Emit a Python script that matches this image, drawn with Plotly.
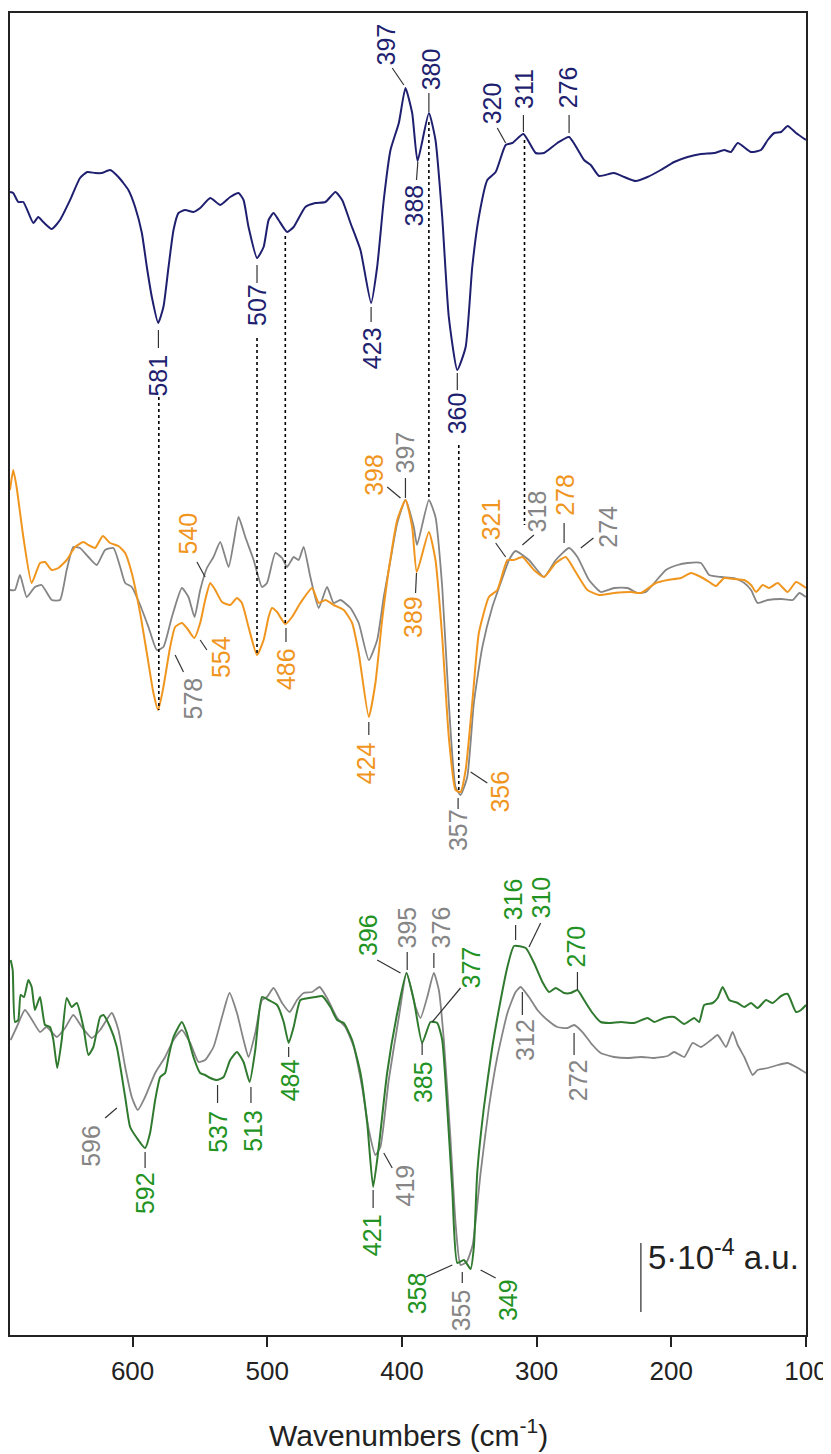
import plotly.graph_objects as go

# ---------------- data (wavenumber in cm-1, intensity in arbitrary offset units) ----------------
blue_wn = [691.0, 688.6, 684.9, 681.1, 673.7, 670.0, 666.3, 660.0, 653.9, 646.4,
           639.0, 633.6, 627.8, 622.9, 616.7, 610.5, 603.1, 598.1, 593.1, 589.4,
           585.7, 581.0, 577.1, 573.3, 569.6, 565.9, 560.9, 554.8, 549.8, 542.3,
           534.9, 527.5, 521.3, 517.6, 513.9, 507.6, 502.7, 499.0, 495.3, 491.6,
           485.3, 480.4, 471.7, 464.3, 456.8, 449.4, 444.4, 438.2, 430.8, 422.9,
           418.4, 413.5, 408.5, 402.3, 397.4, 392.4, 388.4, 380.0, 375.1, 370.1,
           365.2, 358.9, 352.7, 347.8, 342.9, 336.6, 330.4, 323.0, 318.0, 309.8,
           300.7, 294.5, 284.6, 275.9, 264.8, 259.8, 253.6, 242.5, 235.0, 226.4,
           217.7, 207.8, 197.9, 187.9, 178.0, 168.1, 160.7, 155.7, 150.7, 140.8,
           133.4, 128.4, 123.5, 118.5, 113.6, 107.4, 100.0]
blue_val = [1143, 1142, 1133, 1133, 1112, 1118, 1113, 1106, 1115, 1135,
            1157, 1163, 1162, 1162, 1165, 1158, 1145, 1128, 1102, 1068,
            1038, 1012, 1028, 1068, 1105, 1122, 1125, 1123, 1127, 1137,
            1130, 1138, 1142, 1135, 1108, 1077, 1088, 1115, 1122, 1115,
            1103, 1108, 1128, 1132, 1133, 1143, 1135, 1112, 1085, 1032,
            1068, 1135, 1185, 1212, 1247, 1222, 1174, 1222, 1195, 1118,
            1018, 965, 988, 1068, 1118, 1155, 1163, 1190, 1192, 1201,
            1182, 1182, 1192, 1198, 1175, 1170, 1159, 1162, 1158, 1154,
            1158, 1165, 1173, 1178, 1181, 1182, 1185, 1183, 1192, 1183,
            1185, 1195, 1202, 1203, 1209, 1202, 1195]

orange_wn = [691.0, 688.6, 686.1, 681.1, 674.9, 668.7, 665.0, 660.0, 655.1, 648.9,
             642.7, 636.5, 632.8, 627.8, 622.1, 616.7, 610.5, 605.5, 600.6, 594.4,
             589.4, 584.5, 581.0, 577.1, 572.1, 568.4, 563.4, 559.7, 554.2, 549.8,
             546.1, 542.3, 538.6, 533.6, 527.5, 522.5, 518.8, 513.9, 507.6, 502.7,
             499.0, 496.5, 492.7, 486.6, 481.6, 475.4, 466.7, 461.8, 456.8, 450.7,
             443.2, 437.0, 432.1, 424.6, 419.7, 414.7, 409.8, 403.5, 397.3, 392.4,
             389.0, 380.0, 375.1, 370.1, 365.2, 360.2, 356.5, 352.7, 347.8, 342.9,
             335.4, 329.2, 321.7, 316.8, 310.6, 302.0, 294.5, 285.8, 278.4, 271.0,
             262.3, 253.6, 242.5, 230.1, 222.6, 211.5, 202.8, 192.9, 185.4, 178.0,
             171.8, 166.9, 160.7, 153.3, 145.8, 140.8, 137.1, 132.1, 127.2, 121.0,
             113.6, 107.4, 100.0]
orange_val = [845, 865, 848, 798, 752, 772, 773, 765, 767, 775,
              788, 793, 790, 787, 799, 792, 789, 782, 762, 722,
              682, 642, 625, 648, 688, 708, 712, 707, 697, 712,
              735, 752, 745, 733, 730, 737, 732, 708, 680, 695,
              718, 727, 723, 711, 718, 732, 747, 732, 735, 730,
              725, 712, 682, 618, 652, 715, 765, 815, 835, 808,
              763, 803, 775, 698, 598, 545, 543, 565, 632, 702,
              738, 745, 775, 775, 778, 765, 758, 772, 778, 763,
              745, 740, 742, 743, 742, 752, 755, 757, 762, 758,
              753, 749, 757, 756, 755, 750, 743, 750, 747, 752,
              743, 753, 747]

gray_mid_wn = [691.0, 687.3, 683.6, 678.6, 672.5, 667.5, 660.0, 653.9, 648.9, 644.0,
               639.0, 632.8, 626.6, 620.4, 614.2, 609.2, 605.5, 600.6, 594.4, 588.2,
               582.0, 577.1, 570.8, 563.4, 558.5, 554.0, 549.8, 544.8, 539.9, 534.9,
               528.7, 525.0, 521.3, 516.3, 510.1, 503.9, 500.2, 494.0, 489.0, 485.3,
               480.4, 476.7, 473.0, 468.0, 461.8, 455.6, 450.7, 445.7, 438.2, 432.1,
               424.6, 418.4, 413.5, 408.5, 403.5, 397.4, 391.2, 388.8, 380.0, 375.1,
               370.1, 365.2, 360.2, 356.5, 351.5, 346.6, 340.3, 332.9, 326.7, 320.5,
               315.6, 305.7, 294.5, 285.8, 275.9, 269.7, 261.1, 252.4, 242.5, 232.5,
               225.1, 218.9, 212.7, 204.0, 195.4, 187.9, 178.0, 171.8, 163.1, 153.3,
               145.8, 140.8, 135.9, 128.4, 118.5, 109.8, 104.9, 100.0]
gray_mid_val = [745, 745, 760, 738, 748, 750, 735, 735, 765, 788,
                787, 778, 770, 785, 787, 768, 752, 748, 730, 708,
                685, 688, 718, 747, 738, 718, 745, 767, 778, 793,
                768, 792, 818, 798, 775, 748, 752, 782, 777, 768,
                778, 775, 788, 758, 727, 748, 732, 735, 727, 712,
                675, 695, 738, 775, 812, 835, 808, 790, 835, 818,
                748, 632, 548, 540, 558, 632, 688, 728, 752, 775,
                784, 775, 758, 775, 787, 778, 755, 743, 747, 747,
                742, 743, 752, 765, 770, 772, 772, 760, 758, 757,
                752, 745, 732, 735, 736, 735, 742, 738]

green_wn = [690.5, 689.0, 687.3, 684.9, 683.1, 680.6, 677.4, 674.9, 672.5, 668.7,
            665.0, 661.3, 658.8, 655.9, 652.6, 648.9, 645.2, 641.4, 636.5, 632.8,
            629.1, 624.1, 621.7, 616.7, 611.7, 605.5, 601.8, 596.8, 590.7, 587.0,
            583.2, 579.5, 575.8, 573.3, 569.6, 563.4, 559.7, 554.8, 549.8, 546.1,
            542.3, 537.4, 532.4, 527.5, 522.5, 517.6, 513.1, 508.9, 503.9, 499.0,
            492.7, 487.8, 484.1, 480.4, 475.4, 469.2, 464.3, 459.3, 453.1, 448.1,
            443.2, 437.0, 430.8, 425.8, 421.4, 417.2, 411.0, 403.5, 396.6, 391.2,
            385.0, 378.8, 373.8, 370.1, 366.4, 362.6, 358.9, 354.0, 349.0, 346.6,
            344.1, 339.1, 332.9, 326.7, 321.7, 316.8, 308.1, 301.9, 295.7, 290.8,
            285.8, 279.6, 274.7, 269.7, 264.8, 258.5, 252.4, 246.2, 237.5, 227.6,
            217.7, 212.7, 205.3, 197.9, 190.4, 183.0, 179.3, 175.6, 169.3, 165.6,
            161.9, 157.0, 150.7, 145.8, 140.8, 135.9, 129.7, 124.7, 118.5, 113.6,
            107.4, 103.7, 100.0]
green_val = [375, 365, 313, 315, 340, 338, 355, 348, 325, 338,
             310, 308, 295, 267, 295, 337, 328, 332, 308, 280,
             288, 318, 320, 308, 288, 238, 208, 197, 187, 202,
             235, 258, 262, 278, 298, 313, 302, 278, 262, 260,
             257, 255, 258, 275, 283, 273, 253, 285, 338, 335,
             330, 313, 292, 308, 335, 337, 338, 339, 328, 315,
             312, 295, 262, 212, 148, 188, 262, 322, 362, 335,
             292, 313, 312, 295, 228, 145, 72, 75, 66, 88,
             162, 228, 288, 335, 368, 389, 387, 372, 353, 343,
             347, 342, 342, 345, 335, 322, 313, 312, 313, 312,
             317, 313, 317, 318, 311, 317, 313, 330, 332, 337,
             348, 335, 332, 328, 332, 327, 335, 332, 339, 341,
             323, 325, 330]

gray_bot_wn = [690.5, 686.0, 679.9, 673.7, 668.7, 663.8, 656.3, 650.1, 644.0, 637.7,
               630.3, 624.1, 615.4, 610.5, 605.5, 600.6, 596.1, 590.7, 583.2, 575.8,
               569.6, 563.4, 557.2, 551.0, 546.1, 539.9, 533.6, 528.0, 522.5, 517.6,
               513.9, 508.9, 503.9, 500.2, 495.3, 489.0, 483.4, 477.9, 473.0, 466.7,
               461.1, 455.6, 448.1, 442.0, 435.8, 429.6, 424.6, 419.7, 416.0, 409.8,
               402.3, 396.6, 389.9, 386.2, 381.2, 376.3, 372.6, 368.9, 363.9, 360.2,
               356.5, 352.0, 347.5, 341.6, 335.4, 329.2, 321.7, 315.6, 311.9, 305.7,
               299.4, 292.0, 284.6, 277.1, 272.2, 266.0, 258.5, 252.4, 242.5, 232.5,
               222.6, 212.7, 202.8, 197.9, 190.4, 184.2, 178.0, 170.6, 165.6, 159.4,
               154.5, 150.7, 145.8, 139.6, 135.9, 128.4, 121.0, 113.6, 106.1, 100.0]
gray_bot_val = [295, 308, 325, 313, 303, 308, 298, 307, 320, 308,
                297, 305, 322, 305, 268, 238, 225, 238, 262, 278,
                295, 305, 292, 273, 275, 288, 318, 342, 322, 295,
                278, 302, 335, 338, 347, 332, 323, 335, 342, 343,
                348, 337, 317, 308, 288, 248, 205, 180, 188, 255,
                318, 362, 328, 317, 338, 362, 345, 295, 195, 112,
                70, 73, 90, 162, 228, 278, 322, 343, 348, 338,
                325, 315, 308, 307, 310, 303, 290, 282, 278, 277,
                278, 277, 279, 283, 278, 292, 288, 295, 300, 288,
                303, 290, 278, 260, 265, 267, 270, 272, 267, 262]

# peak labels: text, wavenumber of label centre, intensity of label centre
blue_lbl_text = ["397", "388", "380", "320", "311", "276", "581", "507", "423", "360"]
blue_lbl_wn = [412.2, 390.7, 378.2, 332.9, 309.4, 276.5, 581.4, 507.6, 422.1, 358.9]
blue_lbl_val = [1290, 1130, 1266, 1232, 1246, 1248, 959, 1030, 987, 922]

orange_lbl_text = ["398", "540", "554", "486", "424", "389", "321", "278", "356"]
orange_lbl_wn = [420.9, 558.5, 534.3, 486.0, 426.5, 391.8, 333.6, 279.1, 327.5]
orange_lbl_val = [860, 802, 678, 666, 572, 718, 816, 840, 543]

graym_lbl_text = ["397", "578", "318", "274", "357"]
graym_lbl_wn = [398.1, 554.8, 299.4, 247.2, 358.3]
graym_lbl_val = [882, 637, 824, 808, 505]

green_lbl_text = ["592", "537", "513", "484", "421", "396", "377", "385", "316", "310", "270", "358", "349"]
green_lbl_wn = [590.7, 536.7, 510.7, 482.9, 422.1, 425.2, 348.4, 384.3, 317.4, 296.4, 270.4, 388.6, 321.2]
green_lbl_val = [142, 203, 204, 255, 100, 400, 368, 253, 436, 438, 389, 42, 35]

grayb_lbl_text = ["596", "419", "395", "376", "312", "272", "355"]
grayb_lbl_wn = [631.0, 397.4, 395.9, 370.7, 308.7, 269.1, 355.9]
grayb_lbl_val = [189, 150, 408, 408, 295, 255, 25]

# leader lines (wn0, val0, wn1, val1)
leaders = [
    (407.2, 1267, 398.6, 1250), (388.2, 1173, 389.2, 1155), (380.0, 1242, 380.0, 1223),
    (329.2, 1207, 323.0, 1192), (309.8, 1220, 309.8, 1203), (275.9, 1220, 275.9, 1202),
    (580.8, 1005, 580.8, 987), (507.6, 1070, 507.6, 1052), (422.9, 1028, 422.9, 1013),
    (358.9, 962, 358.9, 945),
    (410.9, 848, 401.1, 837), (397.4, 857, 397.4, 837), (552.2, 773, 546.1, 758),
    (568.4, 680, 562.2, 663), (549.8, 695, 544.8, 685), (486.1, 707, 486.1, 693),
    (424.6, 613, 424.6, 600), (389.2, 762, 389.9, 742), (330.4, 792, 323.0, 778),
    (310.6, 790, 302.0, 800), (279.6, 812, 279.6, 792), (267.2, 787, 257.8, 797),
    (349.0, 563, 336.6, 552), (358.3, 537, 358.3, 526),
    (620.4, 217, 611.7, 227), (590.7, 183, 590.7, 167), (536.9, 250, 536.9, 232),
    (512.1, 248, 512.1, 232), (484.1, 288, 484.1, 278), (421.4, 145, 421.4, 127),
    (413.5, 182, 407.2, 167), (418.4, 375, 401.1, 362), (396.1, 383, 396.1, 365),
    (376.3, 382, 376.3, 367), (377.5, 313, 356.5, 347), (385.0, 292, 385.0, 280),
    (315.6, 410, 315.6, 395), (305.7, 388, 297.0, 412), (269.7, 363, 269.7, 345),
    (310.6, 343, 310.6, 320), (272.2, 302, 272.2, 280), (382.5, 58, 362.6, 70),
    (355.2, 63, 355.2, 52), (341.6, 65, 330.4, 57),
]

# dotted correlation lines (wn, val_top, val_bottom)
dotted = [(580.5, 938, 625), (507.6, 997, 682), (486.6, 1099, 711),
          (380.0, 1213, 835), (357.8, 890, 545), (309.0, 1195, 810)]

# scale bar: 5e-4 a.u.
scale_wn = 222.6
scale_val = [23, 92]

x_ticks = [600, 500, 400, 300, 200, 100]

# ---------------- styling ----------------
BLUE = "#1f1f70"
ORANGE = "#f0961f"
GRAY = "#858585"
GREEN_LINE = "#2f7a2f"
GREEN_TEXT = "#229322"
FONT = "Liberation Sans, Arial, sans-serif"
LBL_SIZE = 25

fig = go.Figure()


def add_line(x, y, color, width=2.0):
    fig.add_trace(go.Scatter(x=x, y=y, mode="lines", hoverinfo="skip",
                             line=dict(color=color, width=width, shape="spline", smoothing=0.5)))


add_line(blue_wn, blue_val, BLUE, 2.0)
add_line(gray_mid_wn, gray_mid_val, GRAY, 1.8)
add_line(orange_wn, orange_val, ORANGE, 2.0)
add_line(gray_bot_wn, gray_bot_val, GRAY, 1.8)
add_line(green_wn, green_val, GREEN_LINE, 2.0)

shapes = []
for (w, v0, v1) in dotted:
    shapes.append(dict(type="line", xref="x", yref="y", x0=w, x1=w, y0=v0, y1=v1,
                       line=dict(color="black", width=1.6, dash="dot")))
for (w0, v0, w1, v1) in leaders:
    shapes.append(dict(type="line", xref="x", yref="y", x0=w0, x1=w1, y0=v0, y1=v1,
                       line=dict(color="#333333", width=1.2)))
shapes.append(dict(type="line", xref="x", yref="y", x0=scale_wn, x1=scale_wn,
                   y0=scale_val[0], y1=scale_val[1], line=dict(color="#555555", width=1.5)))

annotations = []


def add_labels(texts, wns, vals, color):
    for t, w, v in zip(texts, wns, vals):
        annotations.append(dict(x=w, y=v, xref="x", yref="y", text=t, showarrow=False,
                                textangle=-90, xanchor="center", yanchor="middle",
                                font=dict(family=FONT, size=LBL_SIZE, color=color)))


add_labels(blue_lbl_text, blue_lbl_wn, blue_lbl_val, BLUE)
add_labels(orange_lbl_text, orange_lbl_wn, orange_lbl_val, ORANGE)
add_labels(graym_lbl_text, graym_lbl_wn, graym_lbl_val, GRAY)
add_labels(green_lbl_text, green_lbl_wn, green_lbl_val, GREEN_TEXT)
add_labels(grayb_lbl_text, grayb_lbl_wn, grayb_lbl_val, GRAY)

annotations.append(dict(x=scale_wn - 3.5, y=80, xref="x", yref="y",
                        text="5·10<sup>-4</sup> a.u.", showarrow=False,
                        xanchor="left", yanchor="middle",
                        font=dict(family=FONT, size=33, color="#222222")))
annotations.append(dict(x=0.5, y=-0.0745, xref="paper", yref="paper",
                        text="Wavenumbers (cm<sup>-1</sup>)", showarrow=False,
                        xanchor="center", yanchor="middle",
                        font=dict(family=FONT, size=30, color="#222222")))

# the page body adds an 8 px offset, so the figure is sized/margined to compensate
fig.update_layout(
    width=823, height=1446,
    margin=dict(l=2, r=25, t=5, b=119),
    paper_bgcolor="white", plot_bgcolor="white",
    showlegend=False,
    shapes=shapes, annotations=annotations,
    xaxis=dict(range=[691, 100], tickvals=x_ticks, ticks="outside", ticklen=10,
               tickwidth=2, tickcolor="#222222", showline=True, mirror=True,
               linecolor="#222222", linewidth=2, showgrid=False, zeroline=False,
               automargin=False,
               tickfont=dict(family=FONT, size=26, color="#222222"),
               ticklabelstandoff=2),
    yaxis=dict(range=[0, 1322], showticklabels=False, ticks="", showline=True,
               mirror=True, linecolor="#222222", linewidth=2, showgrid=False,
               zeroline=False, automargin=False),
)

fig.write_html("out.html")
